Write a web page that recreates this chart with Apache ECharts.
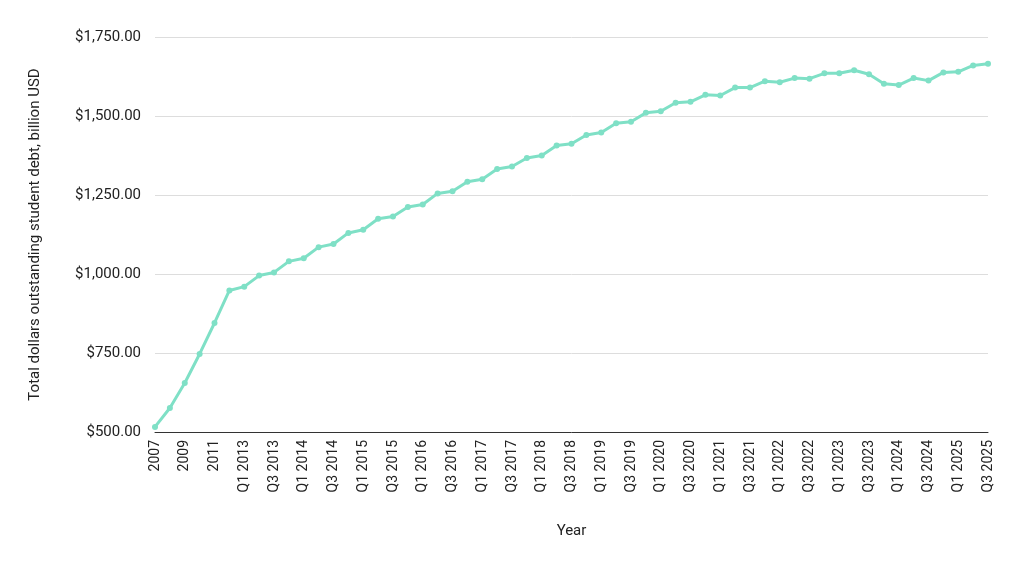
<!DOCTYPE html>
<html>
<head>
<meta charset="utf-8">
<script src="https://cdn.jsdelivr.net/npm/echarts@6/dist/echarts.min.js"></script>
<style>html,body{margin:0;padding:0;background:#fff}#chart{width:1024px;height:572px}</style>
</head>
<body>
<div id="chart"></div>
<script>
var years = ['2007', '2008', '2009', '2010', '2011', '2012'];
var categories = years.slice();
for (var y = 2013; y <= 2025; y++) {
    for (var q = 1; q <= 4; q++) {
        if (y == 2025 && q == 4) break;
        categories.push('Q' + q + ' ' + y);
    }
}

// billion USD
var debt = [516, 576, 655, 747, 845, 948,
    960, 995, 1005, 1040, 1050, 1085, 1095, 1130, 1140, 1175, 1182, 1212,
    1220, 1255, 1262, 1292, 1300, 1332, 1340, 1367, 1375, 1407, 1412, 1440,
    1448, 1477, 1482, 1510, 1515, 1542, 1545, 1567, 1565, 1590, 1590, 1610,
    1607, 1620, 1618, 1635, 1635, 1645, 1632, 1602, 1598, 1620, 1612, 1638,
    1640, 1660, 1665];

var option = {
    animation: false,
    grid: { left: 155, right: 36, top: 37, bottom: 140 },
    xAxis: {
        type: 'category',
        data: categories,
        boundaryGap: false,
        name: 'Year',
        nameLocation: 'middle',
        nameGap: 92,
        nameTextStyle: { fontSize: 15, color: '#222', fontFamily: 'Roboto' },
        axisLine: { lineStyle: { color: '#333' } },
        axisTick: { show: false },
        axisLabel: { interval: 1, rotate: 90, fontSize: 14, color: '#222', fontFamily: 'Roboto' }
    },
    yAxis: {
        type: 'value',
        min: 500, max: 1750, interval: 250,
        name: 'Total dollars outstanding student debt, billion USD',
        nameLocation: 'middle',
        nameGap: 112,
        nameTextStyle: { fontSize: 15, color: '#222', fontFamily: 'Roboto' },
        axisLabel: {
            fontSize: 15, color: '#222', fontFamily: 'Roboto', margin: 14,
            formatter: function (v) { return '$' + v.toLocaleString('en-US', { minimumFractionDigits: 2 }); }
        },
        splitLine: { lineStyle: { color: '#ddd' } }
    },
    series: [{
        type: 'line',
        data: debt,
        symbol: 'circle',
        symbolSize: 6,
        lineStyle: { width: 3, color: '#7fe0c6' },
        itemStyle: { color: '#7fe0c6' }
    }]
};
echarts.init(document.getElementById('chart')).setOption(option);
</script>
</body>
</html>
